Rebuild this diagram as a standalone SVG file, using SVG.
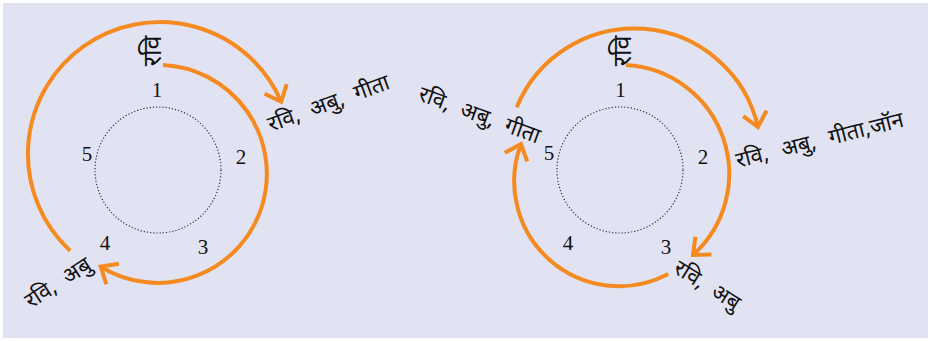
<svg xmlns="http://www.w3.org/2000/svg" width="930" height="341" viewBox="0 0 930 341">
<style>
.bg{fill:#E1E3F2}
.dot{fill:none;stroke:#333;stroke-width:1.2;stroke-dasharray:1.2 2}
.arc{fill:none;stroke:#F58A20;stroke-width:4;marker-end:url(#ah)}
.num{font-family:"Liberation Serif",serif;font-size:21px;fill:#111;text-anchor:middle}
.lbl{font-family:"Noto Sans",sans-serif;font-size:22px;fill:#111;word-spacing:6px}
</style>
<defs>
<marker id="ah" markerUnits="userSpaceOnUse" markerWidth="40" markerHeight="40" viewBox="-20 -20 40 40" refX="0" refY="0" orient="auto">
<path d="M-14,-12 L0,0 L-14,12" fill="none" stroke="#F58A20" stroke-width="4"/>
</marker>
</defs>
<rect x="0" y="0" width="930" height="341" fill="#fff"/>
<rect class="bg" x="3" y="3" width="925" height="335"/>
<g id="left-ring">
<circle class="dot" cx="158" cy="170" r="63"/>
<text class="num" x="157" y="97">1</text>
<text class="num" x="241" y="164">2</text>
<text class="num" x="203" y="254">3</text>
<text class="num" x="105" y="250">4</text>
<text class="num" x="87" y="161">5</text>
</g>
<g id="right-ring">
<circle class="dot" cx="620" cy="170" r="63"/>
<text class="num" x="620.5" y="97">1</text>
<text class="num" x="703" y="164">2</text>
<text class="num" x="666" y="254">3</text>
<text class="num" x="568" y="250">4</text>
<text class="num" x="549" y="160">5</text>
</g>
<g id="labels">
<text class="lbl" style="font-size:25px" text-anchor="middle" transform="translate(161,51) rotate(-90)">रवि</text>
<text class="lbl" style="font-size:25px" text-anchor="middle" transform="translate(631,51) rotate(-90)">रवि</text>
<text class="lbl" transform="translate(271,132) rotate(-20)">रवि, अबु, गीता</text>
<text class="lbl" transform="translate(417,100) rotate(20)">रवि, अबु, गीता</text>
<text class="lbl" style="word-spacing:8px" transform="translate(738,168) rotate(-14)">रवि, अबु, गीता,जॉन</text>
<text class="lbl" transform="translate(31,309) rotate(-33)">रवि, अबु</text>
<text class="lbl" transform="translate(672,272) rotate(32)">रवि, अबु</text>
</g>
<g id="connectors">
<path class="arc" d="M70.1,250.7 A132,132 0 1 1 281.2,101.8"/>
<path class="arc" d="M163,65 A109,109 0 1 1 100.7,266.7"/>
<path class="arc" d="M516.7,107.3 A127,127 0 0 1 758,127"/>
<path class="arc" d="M626,65 A109,109 0 0 1 693,255"/>
<path class="arc" d="M668.3,274 A105,105 0 0 1 521,144"/>
</g>
</svg>
